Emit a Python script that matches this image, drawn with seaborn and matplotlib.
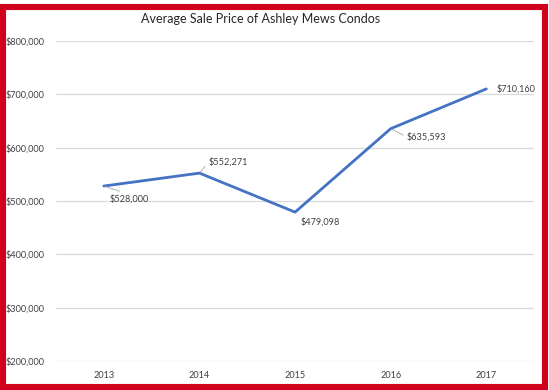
import pandas as pd
import seaborn as sns
import matplotlib.pyplot as plt
from matplotlib.patches import Rectangle
from matplotlib.ticker import FuncFormatter

years = [2013, 2014, 2015, 2016, 2017]
prices = [528000, 552271, 479098, 635593, 710160]
price_labels = ["$528,000", "$552,271", "$479,098", "$635,593", "$710,160"]
# label offsets in points (dx, dy) and where the leader line meets the label
label_offsets = [(4.3, -9.4), (6.5, 8), (4.3, -7.2), (11.5, -5.8), (7.2, 0)]
label_leaders = [(0.5, 1), (0, 0.5), None, (0, 0.5), None]

df = pd.DataFrame({"year": years, "price": prices})

sns.set_style("white")
plt.rcParams["font.family"] = ["Lato", "DejaVu Sans"]

fig = plt.figure(figsize=(5.49, 3.9), dpi=100)
ax = fig.add_axes([0.102, 0.0744, 0.871, 0.8205])

sns.lineplot(data=df, x="year", y="price", color="#4472C4", linewidth=2.0, ax=ax)

ax.set_xlim(2012.5, 2017.5)
ax.set_ylim(200000, 800000)
ax.set_yticks(range(200000, 800001, 100000))
ax.set_xticks(years)
ax.yaxis.set_major_formatter(FuncFormatter(lambda v, p: f"${v:,.0f}"))
ax.grid(axis="y", color="#D9D9D9", linewidth=0.9)
ax.set_axisbelow(True)
for s in ax.spines.values():
    s.set_visible(False)
ax.tick_params(axis="both", length=0, labelsize=6.6, labelcolor="#404040")
ax.tick_params(axis="y", pad=8)
ax.tick_params(axis="x", pad=7)
ax.set_xlabel("")
ax.set_ylabel("")

for x, y, t, off, lead in zip(years, prices, price_labels, label_offsets, label_leaders):
    arrow = None
    if lead is not None:
        arrow = dict(arrowstyle="-", color="#A6A6A6", lw=0.6,
                     shrinkA=0, shrinkB=1, relpos=lead)
    ax.annotate(t, xy=(x, y), xytext=off, textcoords="offset points",
                fontsize=6.6, color="#404040", ha="left", va="center",
                arrowprops=arrow)

fig.text(0.475, 0.951, "Average Sale Price of Ashley Mews Condos", ha="center",
         va="center", fontsize=9, color="#262626")

# red frame around the chart
fig.patches.append(Rectangle((3 / 549, 3 / 390), 542 / 549, 380 / 390,
                             transform=fig.transFigure, fill=False,
                             edgecolor="#D0021B", linewidth=4.4))

fig.savefig("out.png", dpi=100)
